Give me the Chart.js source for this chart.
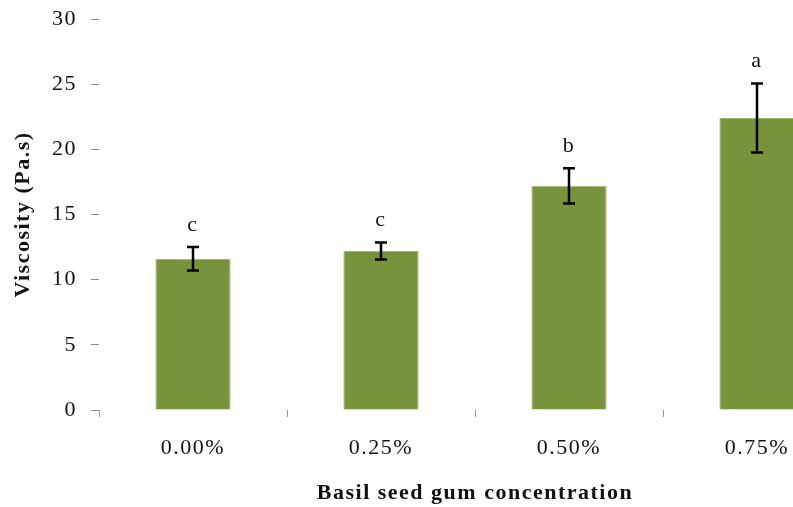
<!DOCTYPE html>
<html>
<head>
<meta charset="utf-8">
<script src="https://cdn.jsdelivr.net/npm/chart.js@4.4.1/dist/chart.umd.min.js"></script>
<style>
  html, body { margin: 0; padding: 0; overflow: hidden; background: #fff; width: 793px; height: 507px; }
  canvas { display: block; }
</style>
</head>
<body>
<!-- the original figure is cut off on the right, so the canvas is wider than the window -->
<canvas id="chart" width="860" height="507"></canvas>
<script>
// Data
const categories = ['0.00%', '0.25%', '0.50%', '0.75%'];
const viscosity = [11.6, 12.2, 17.2, 22.4];      // Pa.s
const viscosityErr = [0.9, 0.65, 1.35, 2.65];     // +/- error
const groupLetters = ['c', 'c', 'b', 'a'];        // significance letters

const textColor = '#111';
const serif = 'Liberation Serif, Times New Roman, serif';

// Spread the letters a little like the scanned figure
const letterSpacing = {
    id: 'letterSpacing',
    beforeUpdate(chart) { chart.ctx.letterSpacing = '1.5px'; },
    beforeDraw(chart) { chart.ctx.letterSpacing = '1.5px'; }
};

// Error bars and group letters above each bar
const errorBars = {
    id: 'errorBars',
    afterDatasetsDraw(chart) {
        const ctx = chart.ctx;
        const y = chart.scales.y;
        const meta = chart.getDatasetMeta(0);
        ctx.save();
        ctx.strokeStyle = '#000';
        ctx.lineWidth = 2.5;
        ctx.fillStyle = textColor;
        ctx.font = '22px ' + serif;
        ctx.textAlign = 'center';
        ctx.textBaseline = 'middle';
        meta.data.forEach((bar, i) => {
            const top = y.getPixelForValue(viscosity[i] + viscosityErr[i]);
            const bottom = y.getPixelForValue(viscosity[i] - viscosityErr[i]);
            ctx.beginPath();
            ctx.moveTo(bar.x, top);
            ctx.lineTo(bar.x, bottom);
            ctx.moveTo(bar.x - 6, top);
            ctx.lineTo(bar.x + 6, top);
            ctx.moveTo(bar.x - 6, bottom);
            ctx.lineTo(bar.x + 6, bottom);
            ctx.stroke();
            ctx.fillText(groupLetters[i], bar.x, top - 22);
        });
        ctx.restore();
    }
};

new Chart(document.getElementById('chart'), {
    type: 'bar',
    data: {
        labels: categories,
        datasets: [{
            label: 'Viscosity',
            data: viscosity,
            backgroundColor: '#77933c',
            borderColor: '#9fb870',
            borderWidth: 1,
            barPercentage: 0.4,
            categoryPercentage: 1
        }]
    },
    options: {
        responsive: false,
        animation: false,
        layout: { padding: { top: 19, right: 9, left: 0, bottom: 0 } },
        plugins: {
            legend: { display: false },
            tooltip: { enabled: false }
        },
        scales: {
            x: {
                grid: { drawOnChartArea: false, drawTicks: true, tickLength: 7, color: '#999', offset: true },
                border: { display: false },
                ticks: { font: { family: serif, size: 22 }, color: textColor, padding: 18 },
                title: {
                    display: true,
                    text: 'Basil seed gum concentration',
                    font: { family: serif, size: 22, weight: 'bold' },
                    color: textColor,
                    padding: { top: 0, bottom: 0 }
                },
                afterFit(scale) { scale.height = 97; }
            },
            y: {
                min: 0,
                max: 30,
                ticks: { stepSize: 5, font: { family: serif, size: 22 }, color: textColor, padding: 14 },
                grid: { drawOnChartArea: false, drawTicks: true, tickLength: 8, color: '#888' },
                border: { display: false },
                title: {
                    display: true,
                    text: 'Viscosity (Pa.s)',
                    font: { family: serif, size: 22, weight: 'bold' },
                    color: textColor,
                    padding: { top: 10, bottom: 0 }
                },
                afterFit(scale) {
                    scale.width = 99;
                    scale.paddingTop = 0;
                    scale.paddingBottom = 0;
                }
            }
        }
    },
    plugins: [letterSpacing, errorBars]
});
</script>
</body>
</html>
